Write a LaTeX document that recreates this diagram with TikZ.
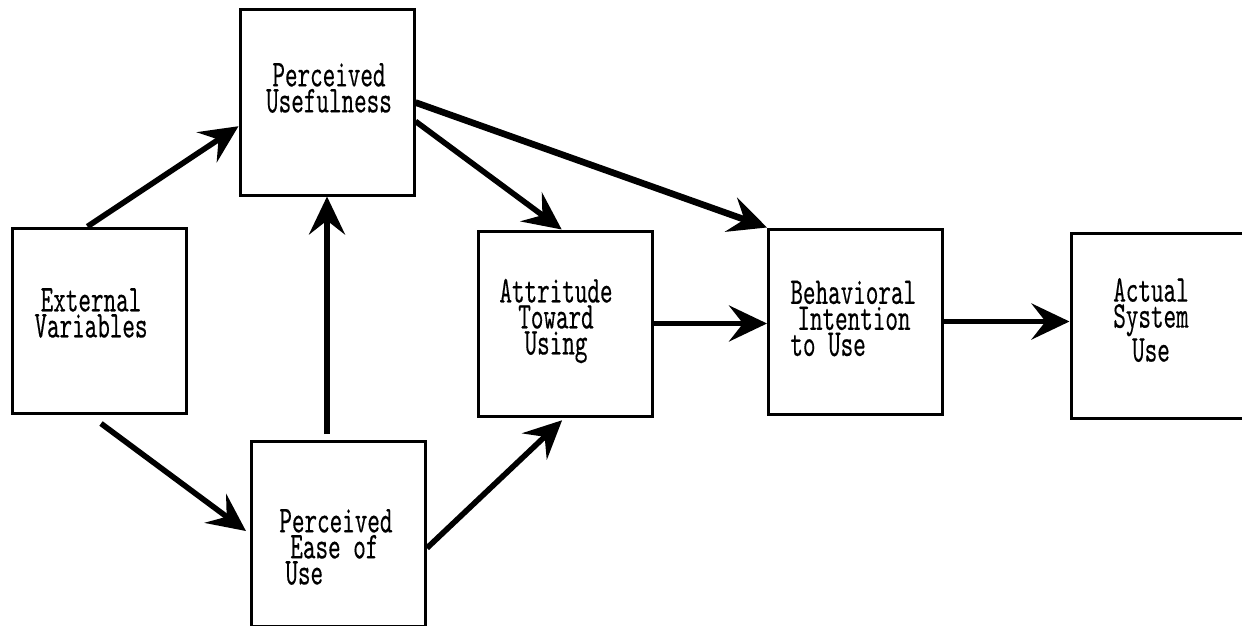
\documentclass[tikz,border=0pt]{standalone}
\usepackage{fontspec}
\newfontfamily\tamfont[Extension=.otf, FakeStretch=0.63, FakeBold=0.3]{lmmono10-regular}
\usetikzlibrary{arrows.meta,calc}

\tikzset{
  tambox/.style={draw, line width=1.5pt, inner sep=0pt, minimum width=87pt, minimum height=92.5pt},
  tamtext/.style={inner sep=0pt, font=\tamfont\fontsize{19}{13}\selectfont},
  tamarrow/.style={line width=2.8pt, -{Stealth[length=19pt, width=18pt, inset=7pt]}}
}

\begin{document}
\begin{tikzpicture}[x=0.5pt, y=-0.5pt]
  \useasboundingbox (0,0) rectangle (1242,626);

  % 方框
  \node[tambox] (ev)  at (99, 320.5) {};
  \node[tambox] (pu)  at (327, 102.5) {};
  \node[tambox] (peu) at (338.5, 534) {};
  \node[tambox] (atu) at (565, 323.5) {};
  \node[tambox] (bi)  at (855.5, 321.5) {};
  \node[tambox] (asu) at (1158, 325.5) {};

  % 文字
  \node[tamtext, align=center] (ev-text) at (91, 313) {External\\Variables};
  \node[tamtext, align=center] (pu-text) at (329, 88) {Perceived\\Usefulness};
  \node[tamtext, align=left, anchor=west] (peu-text) at (279, 547) {Perceived\\\hspace{5.5pt}Ease of\\\hspace{3pt}Use};
  \node[tamtext, align=center] (atu-text) at (556, 321) {Attritude\\Toward\\Using};
  \node[tamtext, align=left, anchor=west] (bi-text) at (790, 318.5) {Behavioral\\\hspace{3.5pt}Intention\\to Use};
  \node[tamtext, align=center] (asu-text) at (1151, 320) {Actual\\System\\Use};

  % 箭头
  \draw[tamarrow] (ev.97) -- (pu.195);
  \draw[tamarrow, shorten >=2.5pt] ($(ev.south)+(2,9)$) -- (peu.west);
  \draw[tamarrow, shorten <=3pt] (peu.north -| pu.south) -- (pu.south);
  \draw[tamarrow, shorten >=2pt] (peu.-9) -- (atu.south);
  \draw[tamarrow] (pu.-12) -- (atu.92);
  \draw[tamarrow, line width=3.3pt] (pu.east) -- (bi.north west);
  \draw[tamarrow] (atu.east) -- (atu.east -| bi.west);
  \draw[tamarrow] (bi.east) -- (bi.east -| asu.west);
\end{tikzpicture}
\end{document}
